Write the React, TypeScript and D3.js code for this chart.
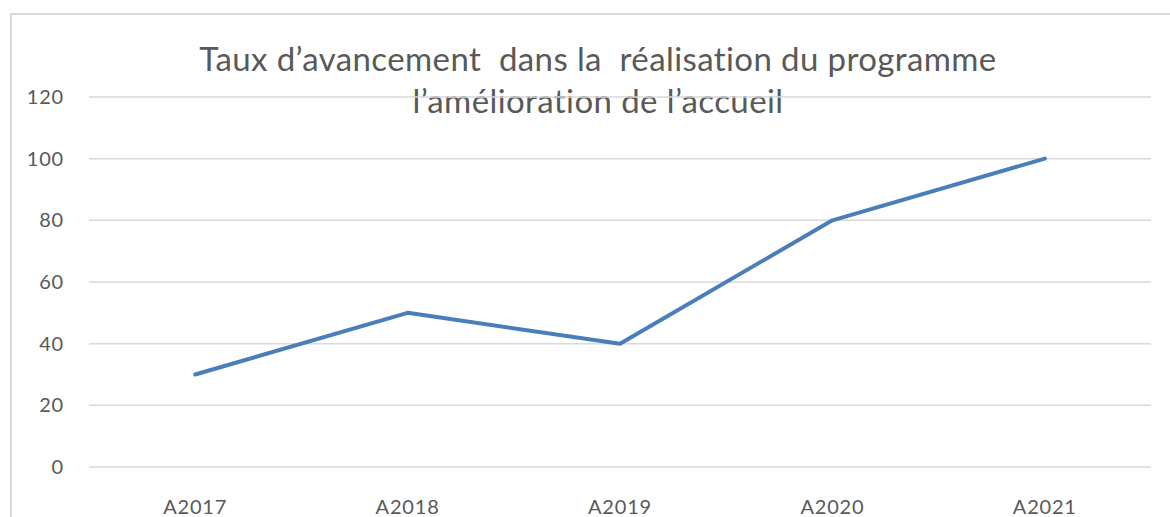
import React from 'react';
import * as d3 from 'd3';

const years = ['A2017', 'A2018', 'A2019', 'A2020', 'A2021'];
const progress = [30, 50, 40, 80, 100];
const yTicks = [0, 20, 40, 60, 80, 100, 120];
const titleLines = [
  'Taux d\u2019avancement  dans la  réalisation du programme',
  'l\u2019amélioration de l\u2019accueil',
];

const App = () => {
  const width = 1170;
  const height = 517;
  const font = 'Lato, Carlito, "Open Sans", sans-serif';
  const textColor = '#595959';

  const x = d3.scalePoint<string>().domain(years).range([89, 1151]).padding(0.5);
  const y = d3.scaleLinear().domain([0, 120]).range([467, 97]);

  const line = d3
    .line<number>()
    .x((d, i) => x(years[i]) as number)
    .y(d => y(d));

  return (
    <svg
      width={width}
      height={height}
      style={{ position: 'absolute', left: 0, top: 0, background: 'white' }}
    >
      {/* chart frame, right and bottom edges run off the picture */}
      <rect x={11} y={14} width={1175} height={520} fill="white" stroke="#d9d9d9" strokeWidth={2} />

      {titleLines.map((t, i) => (
        <text
          key={i}
          x={598}
          y={71 + i * 42}
          textAnchor="middle"
          fontFamily={font}
          fontSize={33}
          letterSpacing={0.4}
          fill={textColor}
          style={{ whiteSpace: 'pre' }}
        >
          {t}
        </text>
      ))}

      {yTicks.map(t => (
        <g key={t}>
          <line x1={89} x2={1151} y1={y(t)} y2={y(t)} stroke="#d9d9d9" strokeWidth={1.5} />
          <text
            x={64}
            y={y(t)}
            dy="0.35em"
            textAnchor="end"
            fontFamily={font}
            fontSize={20}
            letterSpacing={0.8}
            fill={textColor}
          >
            {t}
          </text>
        </g>
      ))}

      {years.map(yr => (
        <text
          key={yr}
          x={x(yr)}
          y={514}
          textAnchor="middle"
          fontFamily={font}
          fontSize={20}
          letterSpacing={0.8}
          fill={textColor}
        >
          {yr}
        </text>
      ))}

      <path
        d={line(progress) || ''}
        fill="none"
        stroke="#4a7ebb"
        strokeWidth={4}
        strokeLinejoin="round"
        strokeLinecap="round"
      />
    </svg>
  );
};

export default App;
